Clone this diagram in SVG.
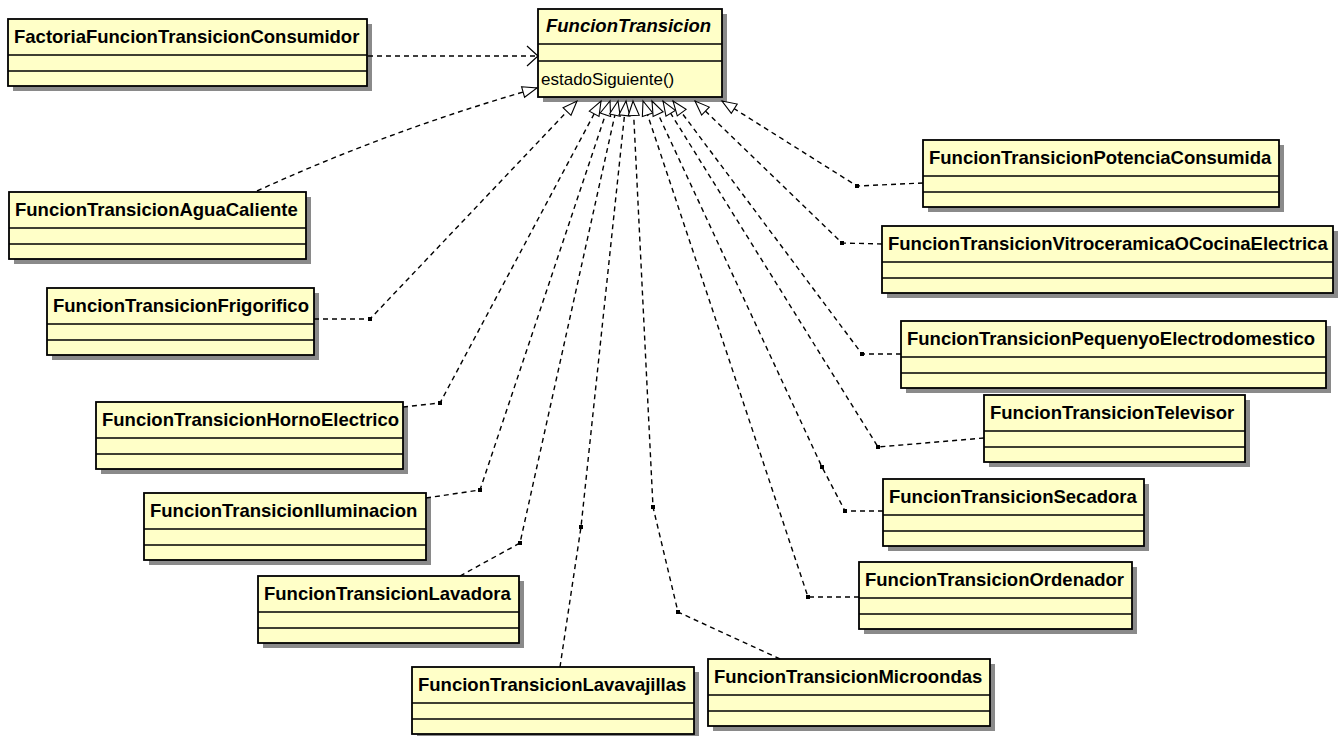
<svg xmlns="http://www.w3.org/2000/svg" width="1340" height="736" viewBox="0 0 1340 736">
  <style>
    .sh { fill: #8a8a8a; stroke: none; }
    .bx { fill: #ffffc8; stroke: #000; stroke-width: 1.8; }
    .dv { fill: none; stroke: #000; stroke-width: 1.6; }
    .t { font-family: "Liberation Sans", Arial, sans-serif; font-weight: bold; font-size: 18.5px; fill: #000; }
    .ti { font-style: italic; }
    .op { font-family: "Liberation Sans", Arial, sans-serif; font-size: 17px; fill: #000; }
    .c { fill: none; stroke: #000; stroke-width: 1.4; stroke-dasharray: 5 4; }
    .r { marker-end: url(#tri); }
    .d { marker-end: url(#open); }
    .p { fill: #000; }
  </style>
  <defs>
    <!-- hollow triangle: realization -->
    <marker id="tri" markerUnits="userSpaceOnUse" markerWidth="18" markerHeight="14" refX="15" refY="6" orient="auto" overflow="visible">
      <path d="M0.5,0.5 L15,6 L0.5,11.5 Z" fill="#fff" stroke="#000" stroke-width="1.1" stroke-dasharray="none"/>
    </marker>
    <!-- open arrow: dependency -->
    <marker id="open" markerUnits="userSpaceOnUse" markerWidth="14" markerHeight="22" refX="11" refY="10" orient="auto" overflow="visible">
      <path d="M0,0 L11,10 L0,20" fill="none" stroke="#000" stroke-width="1.2" stroke-dasharray="none"/>
    </marker>
  </defs>
  <rect width="1340" height="736" fill="#fff"/>

  <!-- classes -->
  <g id="n-factoria">
    <rect class="sh" x="13" y="24" width="359" height="67"/>
    <rect class="bx" x="8" y="19" width="359" height="67"/>
    <path class="dv" d="M8,55H367M8,71H367"/>
    <text class="t" x="14" y="43">FactoriaFuncionTransicionConsumidor</text>
  </g>
  <g id="n-funciontransicion">
    <rect class="sh" x="543" y="14" width="184" height="88"/>
    <rect class="bx" x="538" y="9" width="184" height="88"/>
    <path class="dv" d="M538,44H722M538,61H722"/>
    <text class="t ti" x="546" y="32">FuncionTransicion</text>
    <text class="op" x="541" y="85">estadoSiguiente()</text>
  </g>
  <g id="n-aguacaliente">
    <rect class="sh" x="14" y="197" width="297" height="67"/>
    <rect class="bx" x="9" y="192" width="297" height="67"/>
    <path class="dv" d="M9,228H306M9,244H306"/>
    <text class="t" x="15" y="216">FuncionTransicionAguaCaliente</text>
  </g>
  <g id="n-frigorifico">
    <rect class="sh" x="52" y="293" width="267" height="67"/>
    <rect class="bx" x="47" y="288" width="267" height="67"/>
    <path class="dv" d="M47,324H314M47,340H314"/>
    <text class="t" x="53" y="312">FuncionTransicionFrigorifico</text>
  </g>
  <g id="n-hornoelectrico">
    <rect class="sh" x="101" y="407" width="307" height="67"/>
    <rect class="bx" x="96" y="402" width="307" height="67"/>
    <path class="dv" d="M96,438H403M96,454H403"/>
    <text class="t" x="102" y="426">FuncionTransicionHornoElectrico</text>
  </g>
  <g id="n-iluminacion">
    <rect class="sh" x="149" y="498" width="282" height="67"/>
    <rect class="bx" x="144" y="493" width="282" height="67"/>
    <path class="dv" d="M144,529H426M144,545H426"/>
    <text class="t" x="150" y="517">FuncionTransicionIluminacion</text>
  </g>
  <g id="n-lavadora">
    <rect class="sh" x="263" y="581" width="261" height="67"/>
    <rect class="bx" x="258" y="576" width="261" height="67"/>
    <path class="dv" d="M258,612H519M258,628H519"/>
    <text class="t" x="264" y="600">FuncionTransicionLavadora</text>
  </g>
  <g id="n-lavavajillas">
    <rect class="sh" x="417" y="672" width="282" height="67"/>
    <rect class="bx" x="412" y="667" width="282" height="67"/>
    <path class="dv" d="M412,703H694M412,719H694"/>
    <text class="t" x="418" y="691">FuncionTransicionLavavajillas</text>
  </g>
  <g id="n-microondas">
    <rect class="sh" x="713" y="664" width="282" height="67"/>
    <rect class="bx" x="708" y="659" width="282" height="67"/>
    <path class="dv" d="M708,695H990M708,711H990"/>
    <text class="t" x="714" y="683">FuncionTransicionMicroondas</text>
  </g>
  <g id="n-ordenador">
    <rect class="sh" x="864" y="567" width="273" height="67"/>
    <rect class="bx" x="859" y="562" width="273" height="67"/>
    <path class="dv" d="M859,598H1132M859,614H1132"/>
    <text class="t" x="865" y="586">FuncionTransicionOrdenador</text>
  </g>
  <g id="n-secadora">
    <rect class="sh" x="888" y="484" width="261" height="67"/>
    <rect class="bx" x="883" y="479" width="261" height="67"/>
    <path class="dv" d="M883,515H1144M883,531H1144"/>
    <text class="t" x="889" y="503">FuncionTransicionSecadora</text>
  </g>
  <g id="n-televisor">
    <rect class="sh" x="989" y="400" width="261" height="67"/>
    <rect class="bx" x="984" y="395" width="261" height="67"/>
    <path class="dv" d="M984,431H1245M984,447H1245"/>
    <text class="t" x="990" y="419">FuncionTransicionTelevisor</text>
  </g>
  <g id="n-pequenyo">
    <rect class="sh" x="906" y="326" width="425" height="67"/>
    <rect class="bx" x="901" y="321" width="425" height="67"/>
    <path class="dv" d="M901,357H1326M901,373H1326"/>
    <text class="t" x="907" y="345">FuncionTransicionPequenyoElectrodomestico</text>
  </g>
  <g id="n-vitroceramica">
    <rect class="sh" x="887" y="231" width="451" height="67"/>
    <rect class="bx" x="882" y="226" width="451" height="67"/>
    <path class="dv" d="M882,262H1333M882,278H1333"/>
    <text class="t" x="888" y="250">FuncionTransicionVitroceramicaOCocinaElectrica</text>
  </g>
  <g id="n-potencia">
    <rect class="sh" x="928" y="145" width="356" height="67"/>
    <rect class="bx" x="923" y="140" width="356" height="67"/>
    <path class="dv" d="M923,176H1279M923,192H1279"/>
    <text class="t" x="929" y="164">FuncionTransicionPotenciaConsumida</text>
  </g>

  <!-- connectors -->
  <g id="connectors">
    <path class="c d" d="M368,56 L538,56"/>
    <path class="c r" d="M257,191 Q390,130 537,88"/>
    <path class="c r" d="M314,319 L370,319 L577,101"/>
    <path class="c r" d="M403,407 L440,403 L601,101"/>
    <path class="c r" d="M426,498 L480,490 L610,101"/>
    <path class="c r" d="M460,576 L520,543 L618,101"/>
    <path class="c r" d="M560,667 L581,527 L626,101"/>
    <path class="c r" d="M780,659 L678,612 L653,507 L633,101"/>
    <path class="c r" d="M859,597 L808,597 L643,101"/>
    <path class="c r" d="M883,511 L845,511 L822,467 L652,101"/>
    <path class="c r" d="M984,438 L878,447 L663,101"/>
    <path class="c r" d="M901,354 L862,354 L673,101"/>
    <path class="c r" d="M882,244 L842,243 L695,101"/>
    <path class="c r" d="M923,183 L857,186 L722,101"/>
    <!-- bend points -->
    <rect class="p" x="368" y="317" width="4" height="4"/>
    <rect class="p" x="438" y="401" width="4" height="4"/>
    <rect class="p" x="478" y="488" width="4" height="4"/>
    <rect class="p" x="518" y="541" width="4" height="4"/>
    <rect class="p" x="579" y="525" width="4" height="4"/>
    <rect class="p" x="651" y="505" width="4" height="4"/>
    <rect class="p" x="676" y="610" width="4" height="4"/>
    <rect class="p" x="806" y="595" width="4" height="4"/>
    <rect class="p" x="843" y="509" width="4" height="4"/>
    <rect class="p" x="820" y="465" width="4" height="4"/>
    <rect class="p" x="876" y="445" width="4" height="4"/>
    <rect class="p" x="860" y="352" width="4" height="4"/>
    <rect class="p" x="840" y="241" width="4" height="4"/>
    <rect class="p" x="855" y="184" width="4" height="4"/>
  </g>
</svg>
